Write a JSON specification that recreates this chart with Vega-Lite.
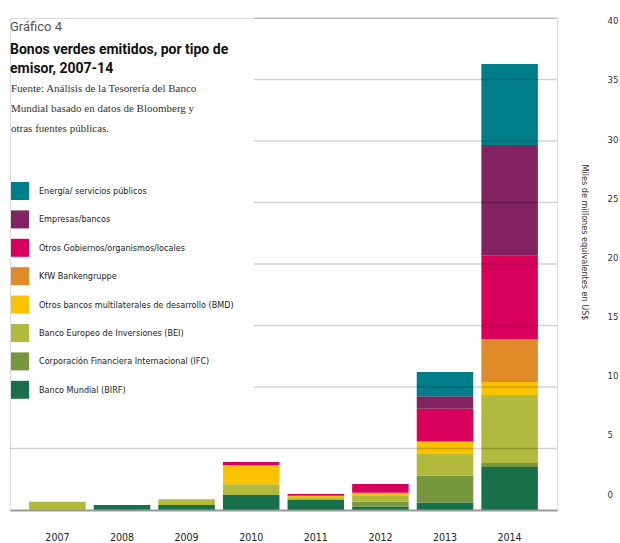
{
  "$schema": "https://vega.github.io/schema/vega-lite/v6.json",
  "width": 547,
  "height": 492,
  "autosize": {"type": "none"},
  "padding": {"left": 10, "top": 18, "right": 63, "bottom": 33},
  "background": "white",
  "title": {
    "text": "Gráfico 4",
    "subtitle": ["Bonos verdes emitidos, por tipo de", "emisor, 2007-14"],
    "anchor": "start",
    "frame": "group",
    "orient": "top",
    "offset": -60,
    "font": "Roboto",
    "fontSize": 13,
    "fontWeight": "normal",
    "color": "#555555",
    "subtitleFont": "Roboto",
    "subtitleFontSize": 14,
    "subtitleFontWeight": "bold",
    "subtitleColor": "#111111",
    "subtitleLineHeight": 19,
    "subtitlePadding": 9
  },
  "data": {
    "values": [
      {"year": "2007", "emisor": "Banco Europeo de Inversiones (BEI)", "value": 0.68},
      {"year": "2008", "emisor": "Banco Mundial (BIRF)", "value": 0.41},
      {"year": "2009", "emisor": "Banco Mundial (BIRF)", "value": 0.41},
      {"year": "2009", "emisor": "Banco Europeo de Inversiones (BEI)", "value": 0.46},
      {"year": "2010", "emisor": "Banco Mundial (BIRF)", "value": 1.22},
      {"year": "2010", "emisor": "Banco Europeo de Inversiones (BEI)", "value": 0.87},
      {"year": "2010", "emisor": "Otros bancos multilaterales de desarrollo (BMD)", "value": 1.55},
      {"year": "2010", "emisor": "Otros Gobiernos/organismos/locales", "value": 0.27},
      {"year": "2011", "emisor": "Banco Mundial (BIRF)", "value": 0.86},
      {"year": "2011", "emisor": "Banco Europeo de Inversiones (BEI)", "value": 0.12},
      {"year": "2011", "emisor": "Otros bancos multilaterales de desarrollo (BMD)", "value": 0.18},
      {"year": "2011", "emisor": "Otros Gobiernos/organismos/locales", "value": 0.15},
      {"year": "2012", "emisor": "Banco Mundial (BIRF)", "value": 0.27},
      {"year": "2012", "emisor": "Corporación Financiera Internacional (IFC)", "value": 0.41},
      {"year": "2012", "emisor": "Banco Europeo de Inversiones (BEI)", "value": 0.46},
      {"year": "2012", "emisor": "Otros bancos multilaterales de desarrollo (BMD)", "value": 0.27},
      {"year": "2012", "emisor": "Otros Gobiernos/organismos/locales", "value": 0.71},
      {"year": "2013", "emisor": "Banco Mundial (BIRF)", "value": 0.6},
      {"year": "2013", "emisor": "Corporación Financiera Internacional (IFC)", "value": 2.2},
      {"year": "2013", "emisor": "Banco Europeo de Inversiones (BEI)", "value": 1.82},
      {"year": "2013", "emisor": "Otros bancos multilaterales de desarrollo (BMD)", "value": 0.95},
      {"year": "2013", "emisor": "Otros Gobiernos/organismos/locales", "value": 2.67},
      {"year": "2013", "emisor": "Empresas/bancos", "value": 1.0},
      {"year": "2013", "emisor": "Energía/ servicios públicos", "value": 1.98},
      {"year": "2014", "emisor": "Banco Mundial (BIRF)", "value": 3.49},
      {"year": "2014", "emisor": "Corporación Financiera Internacional (IFC)", "value": 0.33},
      {"year": "2014", "emisor": "Banco Europeo de Inversiones (BEI)", "value": 5.52},
      {"year": "2014", "emisor": "Otros bancos multilaterales de desarrollo (BMD)", "value": 1.06},
      {"year": "2014", "emisor": "KfW Bankengruppe", "value": 3.48},
      {"year": "2014", "emisor": "Otros Gobiernos/organismos/locales", "value": 6.8},
      {"year": "2014", "emisor": "Empresas/bancos", "value": 9.0},
      {"year": "2014", "emisor": "Energía/ servicios públicos", "value": 6.59}
    ]
  },
  "layer": [
    {
      "transform": [
        {"calculate": "indexof(['Banco Mundial (BIRF)', 'Corporación Financiera Internacional (IFC)', 'Banco Europeo de Inversiones (BEI)', 'Otros bancos multilaterales de desarrollo (BMD)', 'KfW Bankengruppe', 'Otros Gobiernos/organismos/locales', 'Empresas/bancos', 'Energía/ servicios públicos'], datum.emisor)", "as": "stackOrder"}
      ],
      "mark": {"type": "bar", "strokeWidth": 0},
      "encoding": {
        "x": {
          "field": "year",
          "type": "ordinal",
          "scale": {"paddingInner": 0.125, "paddingOuter": 0.296},
          "axis": {
            "title": null,
            "labelAngle": 0,
            "ticks": false,
            "labelPadding": 22,
            "labelFont": "Liberation Sans Narrow, DejaVu Sans Condensed, Roboto Condensed, Roboto",
            "labelFontSize": 10.5,
            "labelColor": "#222222",
            "domainColor": "#9a9a9a",
            "domainWidth": 2,
            "zindex": 1
          }
        },
        "y": {
          "field": "value",
          "type": "quantitative",
          "stack": "zero",
          "scale": {"domain": [0, 40], "nice": false},
          "axis": null
        },
        "order": {"field": "stackOrder", "type": "quantitative", "sort": "ascending"},
        "color": {
          "field": "emisor",
          "type": "nominal",
          "scale": {
            "domain": [
              "Energía/ servicios públicos",
              "Empresas/bancos",
              "Otros Gobiernos/organismos/locales",
              "KfW Bankengruppe",
              "Otros bancos multilaterales de desarrollo (BMD)",
              "Banco Europeo de Inversiones (BEI)",
              "Corporación Financiera Internacional (IFC)",
              "Banco Mundial (BIRF)"
            ],
            "range": ["#007f8a", "#80235f", "#d9005b", "#e08a28", "#fbc200", "#b1ba3c", "#77973f", "#18704a"]
          },
          "legend": {
            "orient": "none",
            "legendX": 1,
            "legendY": 65,
            "direction": "vertical",
            "title": ["Fuente: Análisis de la Tesorería del Banco", "Mundial basado en datos de Bloomberg y", "otras fuentes públicas."],
            "titleFont": "Liberation Serif",
            "titleFontSize": 11,
            "titleFontWeight": "normal",
            "titleColor": "#333333",
            "titleLineHeight": 20,
            "titlePadding": 48,
            "titleLimit": 400,
            "symbolType": "square",
            "symbolSize": 324,
            "symbolStrokeWidth": 0,
            "symbolOpacity": 1,
            "labelFont": "Liberation Sans Narrow, DejaVu Sans Condensed, Roboto Condensed, Roboto",
            "labelFontSize": 9,
            "labelColor": "#222222",
            "labelOffset": 10,
            "labelLimit": 300,
            "rowPadding": 10.4,
            "padding": 0
          }
        }
      }
    },
    {
      "data": {"values": [{"v": 5}]},
      "mark": {"type": "rule", "stroke": "#000000", "strokeOpacity": 0.18, "strokeWidth": 1.5},
      "encoding": {
        "y": {"field": "v", "type": "quantitative", "scale": {"domain": [0, 40], "nice": false}, "axis": null}
      }
    },
    {
      "data": {"values": [{"v": 10}, {"v": 15}, {"v": 20}, {"v": 25}, {"v": 30}, {"v": 35}, {"v": 40}]},
      "mark": {"type": "rule", "stroke": "#000000", "strokeOpacity": 0.18, "strokeWidth": 1.5},
      "encoding": {
        "x": {"datum": "2010", "type": "ordinal", "bandPosition": 0.55},
        "x2": {"value": "width"},
        "y": {"field": "v", "type": "quantitative", "scale": {"domain": [0, 40], "nice": false}, "axis": null}
      }
    },
    {
      "data": {"values": [{"t": 0}]},
      "mark": {"type": "rule", "opacity": 0},
      "encoding": {
        "y": {
          "field": "t",
          "type": "quantitative",
          "scale": {"domain": [-1.35, 40.24], "nice": false, "zero": false},
          "axis": {
            "orient": "right",
            "values": [0, 5, 10, 15, 20, 25, 30, 35, 40],
            "grid": false,
            "ticks": false,
            "domain": false,
            "labelPadding": 50,
            "labelAlign": "left",
            "labelBaseline": "middle",
            "labelFont": "Liberation Sans Narrow, DejaVu Sans Condensed, Roboto Condensed, Roboto",
            "labelFontSize": 9.5,
            "labelColor": "#333333",
            "title": "Miles de millones equivalentes en US$",
            "titleFont": "Liberation Sans Narrow, DejaVu Sans Condensed, Roboto Condensed, Roboto",
            "titleFontSize": 9,
            "titleFontWeight": "normal",
            "titleColor": "#333333",
            "titleAngle": 90,
            "titleX": 27,
            "titleY": 224,
            "titleAlign": "center",
            "titleBaseline": "middle"
          }
        }
      }
    }
  ],
  "resolve": {"scale": {"y": "independent"}}
}
